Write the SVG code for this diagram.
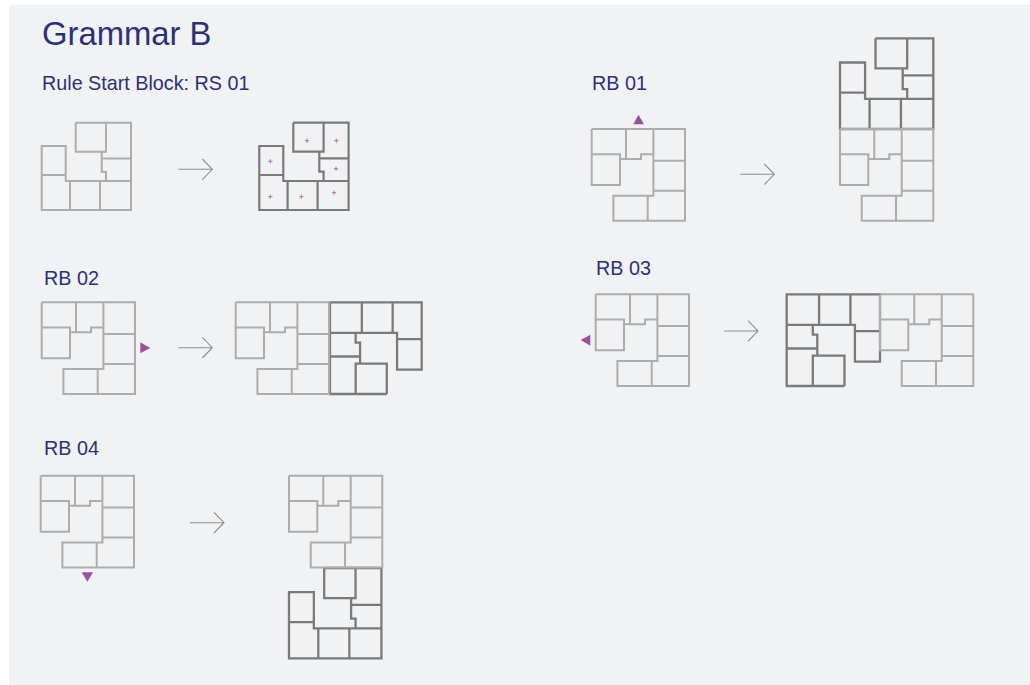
<svg xmlns="http://www.w3.org/2000/svg" width="1030" height="685" viewBox="0 0 1030 685">
<style>
.t{font-family:"Liberation Sans",Arial,sans-serif;fill:#2b3178}
.l{font-size:19.75px}
.plan{fill:none;stroke-linejoin:miter;vector-effect:non-scaling-stroke}
.light{stroke:#adadad;stroke-width:2px}
.dark{stroke:#7a7a7a;stroke-width:2.2px}
.arrow{fill:none;stroke:#8f8f8f;stroke-width:1.1}
.tri{fill:#9c4ea3}
.plus{fill:none;stroke:#b060b8;stroke-width:.9}
</style>
<defs>
<path id="A" d="M34 0H89.3V87.3H0V23.3H24V58.3H89.3M34 0V29H64.3V0M60 29V49H64.3V58.3M60 35.7H89.3M0 52.3H24M28.3 58.3V87.3M58.3 58.3V87.3"/>
<path id="B" d="M0 0H93.3V91.7H21.7V66.7H61.7V0M0 0V56H28.3V25.3H0M28.3 30H34.3M34.3 0V30H49.3V25.3H61.7M61.7 31.7H93.3M61.7 61.7H93.3M56 66.7V91.7"/>
<path id="arr" d="M0 0H34M24 -10.3L34 0L24 10.3"/>
<path id="p" d="M-2.2 0H2.2M0 -2.2V2.2"/>
</defs>
<rect width="1030" height="685" fill="#fff"/>
<rect x="9" y="5" width="1021" height="680" fill="#f1f2f4"/>
<text class="t" x="42" y="45" font-size="32.8">Grammar B</text>
<g id="rs01">
<text class="t l" x="42" y="90">Rule Start Block: RS 01</text>
<use href="#A" class="plan light" transform="translate(41.7 122.7)"/>
<use href="#arr" class="arrow" transform="translate(178.3 169.3)"/>
<use href="#A" class="plan dark" transform="translate(259.3 122.7)"/>
<g class="plus">
<use href="#p" x="307" y="140.7"/><use href="#p" x="336.3" y="140.7"/><use href="#p" x="270.3" y="161.3"/><use href="#p" x="336" y="168.7"/><use href="#p" x="270.3" y="196.7"/><use href="#p" x="301.3" y="196.7"/><use href="#p" x="334" y="192.7"/>
</g>
</g>
<g id="rb02">
<text class="t l" x="44" y="285">RB 02</text>
<use href="#B" class="plan light" transform="translate(41.7 302.3)"/>
<polygon class="tri" points="140.3,342.3 150.3,348 140.3,353.3"/>
<use href="#arr" class="arrow" transform="translate(178.3 347.7)"/>
<use href="#A" class="plan dark" transform="translate(421.7 394) rotate(180) scale(1.027 1.05)"/>
<use href="#B" class="plan light" transform="translate(235.7 302.3)"/>
</g>
<g id="rb04">
<text class="t l" x="44" y="455">RB 04</text>
<use href="#B" class="plan light" transform="translate(40.7 475.7)"/>
<polygon class="tri" points="81.7,572.3 93,572.3 87.3,581.7"/>
<use href="#arr" class="arrow" transform="translate(190 522.7)"/>
<use href="#A" class="plan dark" transform="translate(289 568) scale(1.035 1.035)"/>
<use href="#B" class="plan light" transform="translate(289 475.7)"/>
</g>
<g id="rb01">
<text class="t l" x="592" y="90">RB 01</text>
<use href="#B" class="plan light" transform="translate(591.7 129)"/>
<polygon class="tri" points="633.3,124.3 638.5,114.7 644,124.3"/>
<use href="#arr" class="arrow" transform="translate(740.3 174.3)"/>
<use href="#A" class="plan dark" transform="translate(840 38.3) scale(1.045 1.039)"/>
<use href="#B" class="plan light" transform="translate(840 129)"/>
</g>
<g id="rb03">
<text class="t l" x="596" y="275">RB 03</text>
<use href="#B" class="plan light" transform="translate(595.7 294.3)"/>
<polygon class="tri" points="580.7,340 590.3,334.7 590.3,345.7"/>
<use href="#arr" class="arrow" transform="translate(724 331)"/>
<use href="#A" class="plan dark" transform="translate(880 386) rotate(180) scale(1.045 1.05)"/>
<use href="#B" class="plan light" transform="translate(880 294.3)"/>
</g>
</svg>
